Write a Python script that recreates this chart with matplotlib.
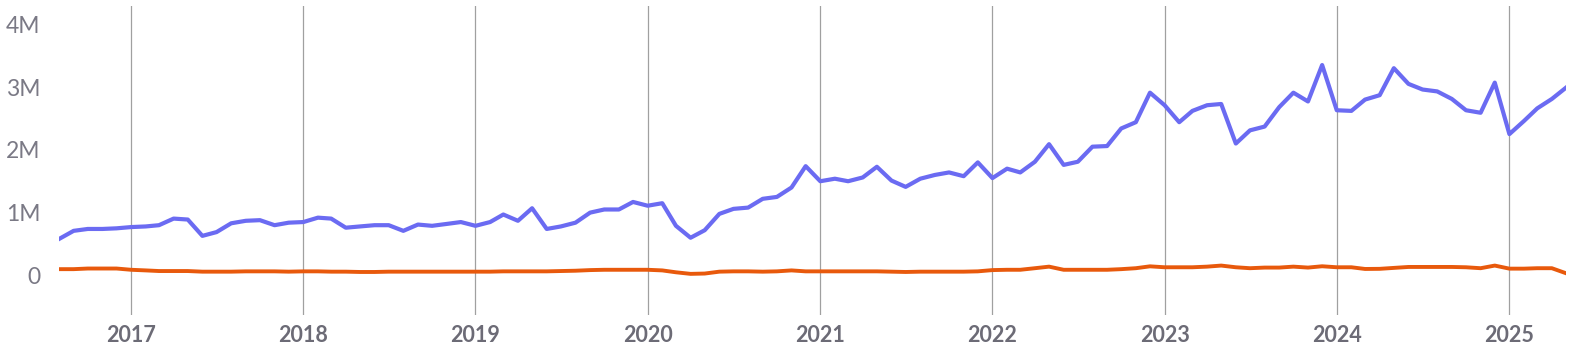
import matplotlib
matplotlib.use("Agg")
import matplotlib.pyplot as plt
import matplotlib.dates as mdates
import matplotlib.ticker as mticker
import numpy as np
import pandas as pd

# monthly values, Aug 2016 .. May 2025 (millions)
months = pd.date_range("2016-08-01", "2025-05-01", freq="MS")

blue_vals = [
	0.58, 0.71, 0.74, 0.74, 0.75,                                      # 2016
	0.77, 0.78, 0.80, 0.905, 0.89, 0.63, 0.69, 0.83, 0.87, 0.88, 0.80, 0.84,  # 2017
	0.85, 0.92, 0.905, 0.76, 0.78, 0.80, 0.80, 0.71, 0.81, 0.79, 0.82, 0.85,  # 2018
	0.79, 0.85, 0.97, 0.87, 1.07, 0.74, 0.78, 0.84, 1.00, 1.05, 1.05, 1.17,   # 2019
	1.11, 1.15, 0.79, 0.60, 0.72, 0.98, 1.06, 1.08, 1.22, 1.25, 1.40, 1.74,   # 2020
	1.50, 1.54, 1.50, 1.56, 1.73, 1.51, 1.41, 1.54, 1.60, 1.64, 1.58, 1.80,   # 2021
	1.55, 1.70, 1.64, 1.81, 2.09, 1.76, 1.81, 2.05, 2.06, 2.34, 2.44, 2.91,   # 2022
	2.71, 2.44, 2.62, 2.71, 2.73, 2.10, 2.31, 2.37, 2.68, 2.91, 2.77, 3.35,   # 2023
	2.63, 2.62, 2.80, 2.87, 3.30, 3.05, 2.96, 2.93, 2.81, 2.63, 2.59, 3.07,   # 2024
	2.25, 2.46, 2.66, 2.81, 2.99,                                      # 2025
]

orange_vals = [
	0.10, 0.10, 0.11, 0.11, 0.11,
	0.09, 0.08, 0.07, 0.07, 0.07, 0.06, 0.06, 0.06, 0.065, 0.065, 0.065, 0.06,
	0.065, 0.065, 0.06, 0.06, 0.055, 0.055, 0.06, 0.06, 0.06, 0.06, 0.06, 0.06,
	0.06, 0.06, 0.065, 0.065, 0.065, 0.065, 0.07, 0.075, 0.085, 0.09, 0.09, 0.09,
	0.09, 0.08, 0.05, 0.025, 0.03, 0.06, 0.065, 0.065, 0.06, 0.065, 0.08, 0.065,
	0.065, 0.065, 0.065, 0.065, 0.065, 0.06, 0.055, 0.06, 0.06, 0.06, 0.06, 0.065,
	0.085, 0.09, 0.09, 0.115, 0.14, 0.09, 0.09, 0.09, 0.09, 0.10, 0.115, 0.145,
	0.13, 0.13, 0.13, 0.14, 0.157, 0.13, 0.115, 0.125, 0.125, 0.14, 0.125, 0.146,
	0.13, 0.13, 0.103, 0.105, 0.12, 0.135, 0.135, 0.135, 0.135, 0.13, 0.115, 0.157,
	0.108, 0.108, 0.115, 0.115, 0.035,
]

blue = np.array(blue_vals) * 1e6
orange = np.array(orange_vals) * 1e6

W, H = 1576, 361
fig = plt.figure(figsize=(W / 100, H / 100), dpi=100)
ax = fig.add_axes([59 / W, 1 - 315 / H, (1566 - 59) / W, (315 - 6) / H])

ax.plot(months, blue, color="#6b6bf2", lw=3.0, zorder=3)
ax.plot(months, orange, color="#e8590c", lw=2.8, zorder=3)

ax.set_xlim(months[0], months[-1])
ax.set_ylim(-0.63e6, 4.29e6)

ax.xaxis.set_major_locator(mdates.YearLocator())
ax.xaxis.set_major_formatter(mdates.DateFormatter("%Y"))
ax.yaxis.set_major_locator(mticker.MultipleLocator(1e6))

def fmt_m(v, pos):
	if v == 0:
		return "0"
	return "%dM" % round(v / 1e6)

ax.yaxis.set_major_formatter(mticker.FuncFormatter(fmt_m))

ax.grid(axis="x", color="#a0a0a0", lw=0.9)
ax.grid(axis="y", visible=False)
for s in ax.spines.values():
	s.set_visible(False)

ax.tick_params(axis="both", length=0)
ax.tick_params(axis="x", pad=7)
ax.tick_params(axis="y", pad=13.5)
for lab in ax.get_xticklabels():
	lab.set_fontfamily("Lato")
	lab.set_fontweight("bold")
	lab.set_fontsize(15.5)
	lab.set_color("#6c6b76")
for lab in ax.get_yticklabels():
	lab.set_fontfamily("Lato")
	lab.set_fontsize(16.5)
	lab.set_color("#7a7985")

fig.savefig("out.png", dpi=100)
